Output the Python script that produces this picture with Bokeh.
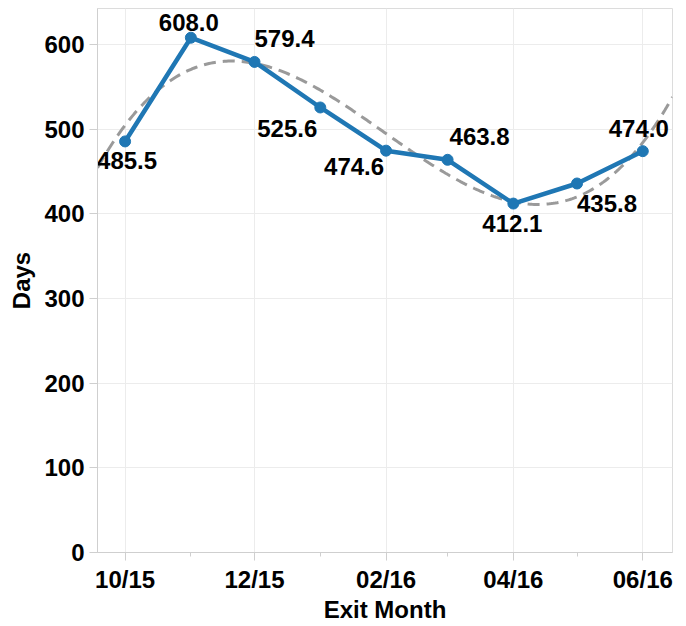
import numpy as np
import pandas as pd
from bokeh.plotting import figure
from bokeh.models import ColumnDataSource, FixedTicker, DatetimeTickFormatter, Range1d
from bokeh.core.properties import value
from bokeh.embed import file_html
from bokeh.resources import INLINE

# ---- data ----
months = ["2015-10", "2015-11", "2015-12", "2016-01", "2016-02",
          "2016-03", "2016-04", "2016-05", "2016-06"]
days_values = [485.5, 608.0, 579.4, 525.6, 474.6, 463.8, 412.1, 435.8, 474.0]
value_labels = ["485.5", "608.0", "579.4", "525.6", "474.6", "463.8", "412.1", "435.8", "474.0"]
major_tick_months = ["2015-10", "2015-12", "2016-02", "2016-04", "2016-06"]
minor_tick_months = ["2015-11", "2016-01", "2016-03", "2016-05"]
y_ticks = [0, 100, 200, 300, 400, 500, 600]

# ---- label placement (style) ----
label_dx = [2, -2, 30, -33, -32, 32, -1, 30, -4]
label_dy = [19, -15, -23, 21, 16, -23, 20, 20, -23]

FONT = "Liberation Sans"


def to_ms(lst):
    return list((pd.to_datetime(lst).astype("int64") // 10**6).astype(float))


x_ms = to_ms(months)
x_start, x_end = to_ms(["2015-09-18", "2016-06-15"])

# cubic polynomial trend line (fitted from the data)
t = (np.array(x_ms) - x_ms[0]) / (86400000.0 * 30)
coef = np.polyfit(t, np.array(days_values), 3)
grid_ms = np.linspace(x_start, x_end, 300)
grid_t = (grid_ms - x_ms[0]) / (86400000.0 * 30)
trend = np.polyval(coef, grid_t)

src = ColumnDataSource(dict(x=x_ms, y=days_values, lab=value_labels, dx=label_dx, dy=label_dy))

p = figure(frame_width=575, frame_height=544, output_backend="svg", toolbar_location=None,
           x_axis_type="datetime",
           x_range=Range1d(x_start, x_end), y_range=Range1d(0, 642.5),
           min_border_left=97, min_border_right=8, min_border_top=8, min_border_bottom=10)

p.line(grid_ms, trend, line_color="#9a9a9a", line_width=3, line_dash="12 7")
p.line("x", "y", source=src, line_color="#1f77b4", line_width=4.5)
p.scatter("x", "y", source=src, size=11, fill_color="#1f77b4", line_color="#1f77b4")
p.text("x", "y", text="lab", source=src, x_offset="dx", y_offset="dy",
       text_align="center", text_baseline="middle", text_font=value(FONT),
       text_font_style="bold", text_font_size="24px", text_color="black")

p.xaxis.ticker = FixedTicker(ticks=to_ms(major_tick_months), minor_ticks=to_ms(minor_tick_months))
p.xaxis.formatter = DatetimeTickFormatter(days="%m/%y", months="%m/%y", years="%m/%y")
p.yaxis.ticker = FixedTicker(ticks=y_ticks)
p.xaxis.axis_label = "Exit Month"
p.yaxis.axis_label = "Days"

for ax in (p.xaxis[0], p.yaxis[0]):
    ax.axis_line_color = "#cfcfcf"
    ax.major_tick_line_color = "#cfcfcf"
    ax.minor_tick_line_color = "#cfcfcf"
    ax.major_tick_in = 0
    ax.major_tick_out = 8
    ax.minor_tick_in = 0
    ax.minor_tick_out = 4
    ax.major_label_text_font = FONT
    ax.major_label_text_font_style = "bold"
    ax.major_label_text_font_size = "24px"
    ax.major_label_text_color = "black"
    ax.axis_label_text_font = FONT
    ax.axis_label_text_font_style = "bold"
    ax.axis_label_text_font_size = "24px"
    ax.axis_label_text_color = "black"
    ax.major_label_standoff = 5
    ax.axis_label_standoff = 6
p.xaxis.axis_label_standoff = 0
p.yaxis.minor_tick_line_color = None

p.xgrid.ticker = FixedTicker(ticks=to_ms(major_tick_months))
p.xgrid.grid_line_color = "#ececec"
p.ygrid.grid_line_color = "#ececec"
p.outline_line_color = "#dcdcdc"
p.background_fill_color = "white"
p.border_fill_color = "white"

open("out.html", "w").write(file_html(p, INLINE))
